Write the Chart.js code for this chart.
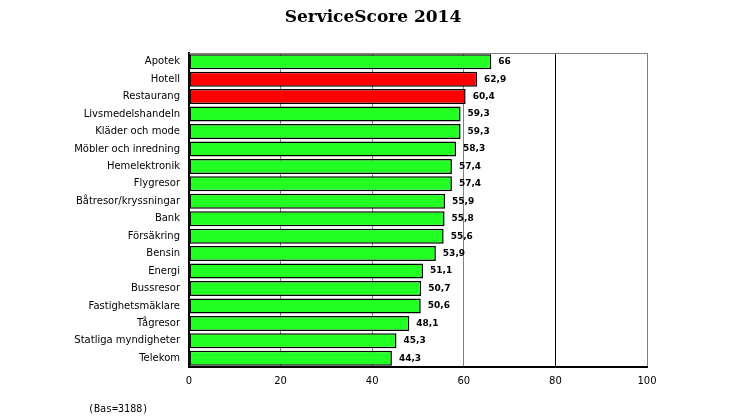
<!DOCTYPE html>
<html>
<head>
<meta charset="utf-8">
<script src="https://cdn.jsdelivr.net/npm/chart.js@4"></script>
<style>
  html, body { margin: 0; padding: 0; background: #fff; }
  #wrap { width: 746px; height: 419px; position: relative; }
</style>
</head>
<body>
<div id="wrap"><canvas id="chart" width="746" height="419"></canvas></div>
<script>
// --- Data ---
const categories = ['Apotek', 'Hotell', 'Restaurang', 'Livsmedelshandeln', 'Kläder och mode',
    'Möbler och inredning', 'Hemelektronik', 'Flygresor', 'Båtresor/kryssningar', 'Bank',
    'Försäkring', 'Bensin', 'Energi', 'Bussresor', 'Fastighetsmäklare', 'Tågresor',
    'Statliga myndigheter', 'Telekom'];
const scores = [66, 62.9, 60.4, 59.3, 59.3, 58.3, 57.4, 57.4, 55.9, 55.8, 55.6, 53.9, 51.1, 50.7, 50.6, 48.1, 45.3, 44.3];
const highlighted = ['Hotell', 'Restaurang'];
const xTicks = [0, 20, 40, 60, 80, 100];
const chartTitle = 'ServiceScore 2014';
const baseNote = '(Bas=3188)';

const barColors = categories.map(c => highlighted.includes(c) ? '#ff0000' : '#22ff22');

// title, value labels, top frame and footnote
const extras = {
    id: 'extras',
    afterDraw(chart) {
        const ctx = chart.ctx;
        const area = chart.chartArea;
        ctx.save();
        // top frame line
        ctx.strokeStyle = '#808080';
        ctx.lineWidth = 1;
        ctx.beginPath();
        ctx.moveTo(area.left, area.top + 0.5);
        ctx.lineTo(area.right, area.top + 0.5);
        ctx.stroke();

        // title
        ctx.fillStyle = '#000';
        ctx.font = 'bold 17px "DejaVu Serif", serif';
        ctx.textAlign = 'center';
        ctx.textBaseline = 'middle';
        ctx.fillText(chartTitle, 373, 18);

        // value labels
        ctx.font = 'bold 9px "DejaVu Sans", sans-serif';
        ctx.textAlign = 'left';
        const meta = chart.getDatasetMeta(0);
        meta.data.forEach((bar, i) => {
            const txt = String(scores[i]).replace('.', ',');
            ctx.fillText(txt, bar.x + 7, bar.y);
        });

        // footnote
        ctx.font = '10px "DejaVu Sans Mono", monospace';
        ctx.fillText(baseNote, 88, 409);
        ctx.restore();
    }
};

new Chart(document.getElementById('chart'), {
    type: 'bar',
    data: {
        labels: categories,
        datasets: [{
            data: scores,
            backgroundColor: barColors,
            borderColor: '#000',
            borderWidth: 1.5,
            borderSkipped: false,
            barPercentage: 0.86,
            categoryPercentage: 1.0
        }]
    },
    options: {
        indexAxis: 'y',
        responsive: false,
        animation: false,
        layout: { padding: { top: 53, right: 99, left: 0, bottom: 0 } },
        plugins: {
            legend: { display: false },
            tooltip: { enabled: false },
            title: { display: false }
        },
        scales: {
            x: {
                min: 0,
                max: 100,
                afterBuildTicks: scale => { scale.ticks = xTicks.map(v => ({ value: v })); },
                afterFit: scale => { scale.height = 52; },
                grid: {
                    color: ctx => (ctx.tick && ctx.tick.value === 80) ? '#000' : '#808080',
                    lineWidth: 1,
                    drawTicks: false
                },
                border: { color: '#000', width: 2 },
                ticks: {
                    color: '#000',
                    padding: 8,
                    font: { family: '"DejaVu Sans", sans-serif', size: 10 }
                }
            },
            y: {
                afterFit: scale => { scale.width = 189; },
                grid: { display: false, drawTicks: false },
                border: { color: '#000', width: 2 },
                ticks: {
                    color: '#000',
                    padding: 9,
                    autoSkip: false,
                    font: { family: '"DejaVu Sans", sans-serif', size: 10 }
                }
            }
        }
    },
    plugins: [extras]
});
</script>
</body>
</html>
